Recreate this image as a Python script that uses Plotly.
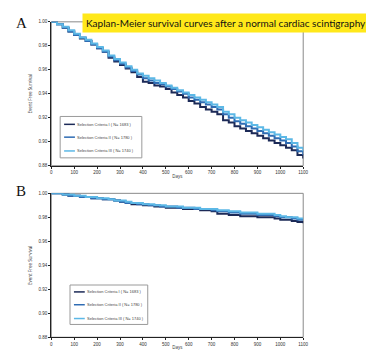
import plotly.graph_objects as go

W, H = 374, 350

# ---------------- data ----------------
series_names = [
    "Selection Criteria I ( N= 1683 )",
    "Selection Criteria II ( N= 1780 )",
    "Selection Criteria III ( N= 1740 )",
]
series_colors = ["#1c2a57", "#2f6cb3", "#5cb8e6"]

days = [0, 25, 50, 75, 100, 125, 150, 175, 200, 225, 250, 275, 300, 325, 350,
        375, 400, 425, 450, 475, 500, 525, 550, 575, 600, 625, 650, 675, 700,
        725, 750, 775, 800, 825, 850, 875, 900, 925, 950, 975, 1000, 1025,
        1050, 1075, 1100]

surv_a_1 = [1.000, 0.998, 0.995, 0.992, 0.989, 0.986, 0.984, 0.981, 0.978, 0.975,
            0.970, 0.967, 0.964, 0.961, 0.958, 0.954, 0.950, 0.949, 0.947, 0.946,
            0.944, 0.941, 0.939, 0.937, 0.934, 0.932, 0.929, 0.927, 0.925, 0.923,
            0.918, 0.916, 0.913, 0.911, 0.909, 0.907, 0.905, 0.903, 0.901, 0.899,
            0.897, 0.895, 0.893, 0.889, 0.886]
surv_a_2 = [1.000, 0.998, 0.995, 0.992, 0.989, 0.987, 0.984, 0.981, 0.978, 0.975,
            0.971, 0.968, 0.965, 0.962, 0.959, 0.956, 0.953, 0.951, 0.949, 0.948,
            0.946, 0.944, 0.942, 0.940, 0.937, 0.935, 0.933, 0.931, 0.929, 0.927,
            0.923, 0.920, 0.917, 0.915, 0.913, 0.911, 0.909, 0.907, 0.905, 0.903,
            0.901, 0.899, 0.896, 0.892, 0.889]
surv_a_3 = [1.000, 0.998, 0.996, 0.993, 0.990, 0.987, 0.985, 0.982, 0.979, 0.976,
            0.972, 0.969, 0.966, 0.963, 0.960, 0.957, 0.955, 0.953, 0.951, 0.949,
            0.947, 0.945, 0.943, 0.941, 0.939, 0.937, 0.935, 0.933, 0.931, 0.929,
            0.925, 0.923, 0.920, 0.918, 0.916, 0.914, 0.912, 0.910, 0.908, 0.906,
            0.904, 0.902, 0.899, 0.895, 0.892]

surv_b_1 = [1.000, 1.000, 0.999, 0.998, 0.998, 0.997, 0.997, 0.996, 0.996, 0.995,
            0.995, 0.994, 0.993, 0.992, 0.991, 0.991, 0.990, 0.990, 0.989, 0.989,
            0.988, 0.988, 0.988, 0.987, 0.987, 0.987, 0.986, 0.986, 0.985, 0.983,
            0.983, 0.982, 0.982, 0.981, 0.981, 0.981, 0.980, 0.980, 0.980, 0.979,
            0.978, 0.978, 0.977, 0.976, 0.975]
surv_b_2 = [1.000, 1.000, 0.999, 0.998, 0.998, 0.997, 0.997, 0.996, 0.996, 0.995,
            0.995, 0.994, 0.993, 0.992, 0.992, 0.991, 0.991, 0.990, 0.990, 0.989,
            0.989, 0.989, 0.988, 0.988, 0.988, 0.987, 0.987, 0.987, 0.986, 0.985,
            0.985, 0.984, 0.984, 0.983, 0.983, 0.983, 0.982, 0.982, 0.982, 0.981,
            0.980, 0.980, 0.979, 0.978, 0.978]
surv_b_3 = [1.000, 1.000, 0.999, 0.999, 0.998, 0.998, 0.997, 0.997, 0.996, 0.996,
            0.995, 0.994, 0.994, 0.993, 0.992, 0.992, 0.991, 0.991, 0.990, 0.990,
            0.989, 0.989, 0.989, 0.988, 0.988, 0.988, 0.987, 0.987, 0.987, 0.986,
            0.986, 0.985, 0.985, 0.984, 0.984, 0.984, 0.983, 0.983, 0.983, 0.982,
            0.981, 0.980, 0.980, 0.979, 0.979]

x_ticks = [0, 100, 200, 300, 400, 500, 600, 700, 800, 900, 1000, 1100]
y_ticks = [0.88, 0.90, 0.92, 0.94, 0.96, 0.98, 1.00]

title_text = "Kaplan-Meier survival curves after a normal cardiac scintigraphy"
x_title = "Days"
y_title = "Event Free Survival"


# ---------------- helpers ----------------
def fx(px):
    return px / W


def fy(py):
    return 1 - py / H


fig = go.Figure()

panels = [
    ("x", "y", [surv_a_1, surv_a_2, surv_a_3]),
    ("x2", "y2", [surv_b_1, surv_b_2, surv_b_3]),
]
for xa, ya, sets in panels:
    for name, col, s in zip(series_names, series_colors, sets):
        fig.add_trace(go.Scatter(
            x=days, y=s, mode="lines", name=name, xaxis=xa, yaxis=ya,
            line=dict(color=col, width=2, shape="hv"), showlegend=False,
        ))

# plot areas in pixels: (left, right, top, bottom)
areas = [(43, 299, 12, 158), (43, 299, 186, 332)]

axis_common = dict(
    showgrid=False, zeroline=False, showline=True, linecolor="#222",
    linewidth=1.2, ticks="outside", ticklen=2, tickcolor="#222",
    tickfont=dict(size=4.5, color="#333", family="Arial"),
)
for i, (l, r, t, b) in enumerate(areas):
    sfx = "" if i == 0 else "2"
    fig.update_layout(**{
        "xaxis" + sfx: dict(
            domain=[fx(l), fx(r)], range=[0, 1100], tickvals=x_ticks,
            anchor="y" + sfx, title=dict(text=x_title, standoff=0,
                                          font=dict(size=4.5, color="#333")),
            **axis_common),
        "yaxis" + sfx: dict(
            domain=[fy(b), fy(t)], range=[0.88, 1.0], tickvals=y_ticks,
            tickformat=".2f", anchor="x" + sfx,
            title=dict(text=y_title, standoff=5,
                       font=dict(size=4.5, color="#333")),
            **axis_common),
    })
    # grey frame (top/right)
    fig.add_shape(type="rect", xref="paper", yref="paper",
                  x0=fx(l), x1=fx(r), y0=fy(b), y1=fy(t),
                  line=dict(color="#8a8a8a", width=1), layer="below")

# manual legends: (left, right, top, bottom, item y positions)
legends = [(52, 135, 108, 150, [116, 129, 143]),
           (62, 141, 279, 319, [286, 299, 313])]
for l, r, t, b, ys in legends:
    fig.add_shape(type="rect", xref="paper", yref="paper",
                  x0=fx(l), x1=fx(r), y0=fy(b), y1=fy(t),
                  line=dict(color="#9a9a9a", width=1), fillcolor="white")
    for name, col, yy in zip(series_names, series_colors, ys):
        fig.add_shape(type="line", xref="paper", yref="paper",
                      x0=fx(l + 4), x1=fx(l + 15), y0=fy(yy), y1=fy(yy),
                      line=dict(color=col, width=1.5))
        fig.add_annotation(xref="paper", yref="paper", x=fx(l + 15), y=fy(yy),
                           text=name, showarrow=False, xanchor="left",
                           yanchor="middle",
                           font=dict(size=4, color="#444", family="Arial"))

# panel letters
for letter, py in [("A", 13), ("B", 184)]:
    fig.add_annotation(xref="paper", yref="paper", x=fx(5), y=fy(py),
                       text=letter, showarrow=False, xanchor="left",
                       yanchor="middle",
                       font=dict(size=15, color="#111",
                                 family="Liberation Serif"))

# title banner
fig.add_annotation(xref="paper", yref="paper", x=fx(74), y=fy(13.5),
                   text=title_text, showarrow=False, xanchor="left",
                   yanchor="middle", bgcolor="#ffe81a", borderpad=3,
                   font=dict(size=10.0, color="#111", family="Lato"))

fig.update_layout(
    width=W, height=H, autosize=False,
    margin=dict(l=0, r=0, t=0, b=0),
    paper_bgcolor="white", plot_bgcolor="white",
    showlegend=False,
)

fig.write_html("out.html")
